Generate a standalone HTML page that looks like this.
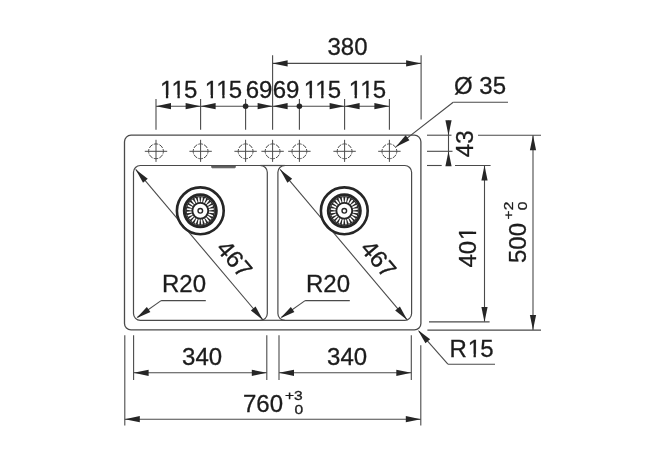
<!DOCTYPE html>
<html><head><meta charset="utf-8"><style>
html,body{margin:0;padding:0;background:#fff;width:665px;height:468px;overflow:hidden}
svg{display:block}
text{font-family:"Liberation Sans",sans-serif}
svg{will-change:transform}
</style></head><body>
<svg width="665" height="468" viewBox="0 0 665 468">
<defs><clipPath id="c0" clipPathUnits="userSpaceOnUse"><path d="M-400 -400H400V400H-400ZM-17.68 -2.70H-12.37V3H-17.68ZM-10.11 -2.70H-0.80V3H-10.11ZM1.46 -2.70H6.58V3H1.46Z" clip-rule="evenodd"/></clipPath><clipPath id="c1" clipPathUnits="userSpaceOnUse"><path d="M-400 -400H400V400H-400ZM-17.68 -2.70H-12.37V3H-17.68ZM-10.11 -2.70H-0.80V3H-10.11ZM1.46 -2.70H6.58V3H1.46Z" clip-rule="evenodd"/></clipPath><clipPath id="c2" clipPathUnits="userSpaceOnUse"><path d="M-400 -400H400V400H-400ZM-17.68 -2.70H-12.37V3H-17.68ZM-10.11 -2.70H-0.80V3H-10.11ZM1.46 -2.70H6.58V3H1.46Z" clip-rule="evenodd"/></clipPath><clipPath id="c3" clipPathUnits="userSpaceOnUse"><path d="M-400 -400H400V400H-400ZM-17.68 -2.70H-12.37V3H-17.68ZM-10.11 -2.70H-0.80V3H-10.11ZM1.46 -2.70H6.58V3H1.46Z" clip-rule="evenodd"/></clipPath><clipPath id="c4" clipPathUnits="userSpaceOnUse"><path d="M-400 -400H400V400H-400ZM8.13 -2.70H13.44V3H8.13ZM15.70 -2.70H20.82V3H15.70Z" clip-rule="evenodd"/></clipPath><clipPath id="c5" clipPathUnits="userSpaceOnUse"><path d="M-400 -400H400V400H-400ZM-3.23 -2.70H2.08V3H-3.23ZM4.34 -2.70H9.46V3H4.34Z" clip-rule="evenodd"/></clipPath></defs>
<rect x="124.50" y="135.20" width="296.40" height="194.70" rx="6.5" fill="none" stroke="#4a4a4a" stroke-width="1.3"/>
<rect x="133.50" y="165.50" width="133.80" height="154.80" rx="6.8" fill="none" stroke="#4a4a4a" stroke-width="1.2"/>
<rect x="277.90" y="165.50" width="133.70" height="154.80" rx="6.8" fill="none" stroke="#4a4a4a" stroke-width="1.2"/>
<line x1="260.30" y1="165.50" x2="284.90" y2="165.50" stroke="#4a4a4a" stroke-width="1.2"/>
<line x1="260.30" y1="320.30" x2="284.90" y2="320.30" stroke="#4a4a4a" stroke-width="1.2"/>
<rect x="211.6" y="165.8" width="23.8" height="2.0" rx="0.8" fill="#666" stroke="#4a4a4a" stroke-width="0.8"/>
<circle cx="156.00" cy="151.30" r="7.4" fill="none" stroke="#4a4a4a" stroke-width="1.0" pathLength="100" stroke-dasharray="10 2.5" stroke-dashoffset="5"/>
<line x1="144.80" y1="151.30" x2="167.20" y2="151.30" stroke="#4a4a4a" stroke-width="1.0"/>
<line x1="156.00" y1="139.80" x2="156.00" y2="161.90" stroke="#4a4a4a" stroke-width="1.0"/>
<circle cx="200.60" cy="151.30" r="7.4" fill="none" stroke="#4a4a4a" stroke-width="1.0" pathLength="100" stroke-dasharray="10 2.5" stroke-dashoffset="5"/>
<line x1="189.40" y1="151.30" x2="211.80" y2="151.30" stroke="#4a4a4a" stroke-width="1.0"/>
<line x1="200.60" y1="139.80" x2="200.60" y2="161.90" stroke="#4a4a4a" stroke-width="1.0"/>
<circle cx="245.60" cy="151.30" r="7.4" fill="none" stroke="#4a4a4a" stroke-width="1.0" pathLength="100" stroke-dasharray="10 2.5" stroke-dashoffset="5"/>
<line x1="234.40" y1="151.30" x2="256.80" y2="151.30" stroke="#4a4a4a" stroke-width="1.0"/>
<line x1="245.60" y1="139.80" x2="245.60" y2="161.90" stroke="#4a4a4a" stroke-width="1.0"/>
<circle cx="272.60" cy="151.30" r="7.4" fill="none" stroke="#4a4a4a" stroke-width="1.0" pathLength="100" stroke-dasharray="10 2.5" stroke-dashoffset="5"/>
<line x1="261.40" y1="151.30" x2="283.80" y2="151.30" stroke="#4a4a4a" stroke-width="1.0"/>
<line x1="272.60" y1="139.80" x2="272.60" y2="161.90" stroke="#4a4a4a" stroke-width="1.0"/>
<circle cx="299.40" cy="151.30" r="7.4" fill="none" stroke="#4a4a4a" stroke-width="1.0" pathLength="100" stroke-dasharray="10 2.5" stroke-dashoffset="5"/>
<line x1="288.20" y1="151.30" x2="310.60" y2="151.30" stroke="#4a4a4a" stroke-width="1.0"/>
<line x1="299.40" y1="139.80" x2="299.40" y2="161.90" stroke="#4a4a4a" stroke-width="1.0"/>
<circle cx="344.60" cy="151.30" r="7.4" fill="none" stroke="#4a4a4a" stroke-width="1.0" pathLength="100" stroke-dasharray="10 2.5" stroke-dashoffset="5"/>
<line x1="333.40" y1="151.30" x2="355.80" y2="151.30" stroke="#4a4a4a" stroke-width="1.0"/>
<line x1="344.60" y1="139.80" x2="344.60" y2="161.90" stroke="#4a4a4a" stroke-width="1.0"/>
<circle cx="389.40" cy="151.30" r="7.4" fill="none" stroke="#4a4a4a" stroke-width="1.0" pathLength="100" stroke-dasharray="10 2.5" stroke-dashoffset="5"/>
<line x1="378.20" y1="151.30" x2="400.60" y2="151.30" stroke="#4a4a4a" stroke-width="1.0"/>
<line x1="389.40" y1="139.80" x2="389.40" y2="161.90" stroke="#4a4a4a" stroke-width="1.0"/>
<line x1="156.00" y1="99.00" x2="156.00" y2="129.80" stroke="#4a4a4a" stroke-width="1.1"/>
<line x1="200.60" y1="99.00" x2="200.60" y2="129.80" stroke="#4a4a4a" stroke-width="1.1"/>
<line x1="245.60" y1="99.00" x2="245.60" y2="129.80" stroke="#4a4a4a" stroke-width="1.1"/>
<line x1="272.60" y1="55.20" x2="272.60" y2="129.80" stroke="#4a4a4a" stroke-width="1.1"/>
<line x1="299.40" y1="99.00" x2="299.40" y2="129.80" stroke="#4a4a4a" stroke-width="1.1"/>
<line x1="344.60" y1="99.00" x2="344.60" y2="129.80" stroke="#4a4a4a" stroke-width="1.1"/>
<line x1="389.40" y1="99.00" x2="389.40" y2="129.80" stroke="#4a4a4a" stroke-width="1.1"/>
<line x1="156.00" y1="106.20" x2="389.40" y2="106.20" stroke="#4a4a4a" stroke-width="1.1"/>
<polygon points="156.00,106.20 171.00,103.10 171.00,109.30" fill="#262626"/>
<polygon points="200.60,106.20 185.60,109.30 185.60,103.10" fill="#262626"/>
<polygon points="200.60,106.20 215.60,103.10 215.60,109.30" fill="#262626"/>
<polygon points="272.60,106.20 257.60,109.30 257.60,103.10" fill="#262626"/>
<polygon points="272.60,106.20 287.60,103.10 287.60,109.30" fill="#262626"/>
<polygon points="344.60,106.20 329.60,109.30 329.60,103.10" fill="#262626"/>
<polygon points="344.60,106.20 359.60,103.10 359.60,109.30" fill="#262626"/>
<polygon points="389.40,106.20 374.40,109.30 374.40,103.10" fill="#262626"/>
<circle cx="245.60" cy="106.20" r="2.8" fill="#262626" stroke="#4a4a4a" stroke-width="0" />
<circle cx="299.40" cy="106.20" r="2.8" fill="#262626" stroke="#4a4a4a" stroke-width="0" />
<g transform="translate(178.30 97.80)"><text x="-18.33 -6.77 5.78" y="0" font-size="24" fill="#1c1c1c" stroke="#1c1c1c" stroke-width="0.3" clip-path="url(#c0)">115</text></g>
<g transform="translate(223.10 97.80)"><text x="-18.33 -6.77 5.78" y="0" font-size="24" fill="#1c1c1c" stroke="#1c1c1c" stroke-width="0.3" clip-path="url(#c1)">115</text></g>
<g transform="translate(259.10 97.80)"><text x="-13.35 0.00" y="0" font-size="24" fill="#1c1c1c" stroke="#1c1c1c" stroke-width="0.3">69</text></g>
<g transform="translate(286.00 97.80)"><text x="-13.35 0.00" y="0" font-size="24" fill="#1c1c1c" stroke="#1c1c1c" stroke-width="0.3">69</text></g>
<g transform="translate(322.00 97.80)"><text x="-18.33 -6.77 5.78" y="0" font-size="24" fill="#1c1c1c" stroke="#1c1c1c" stroke-width="0.3" clip-path="url(#c2)">115</text></g>
<g transform="translate(367.00 97.80)"><text x="-18.33 -6.77 5.78" y="0" font-size="24" fill="#1c1c1c" stroke="#1c1c1c" stroke-width="0.3" clip-path="url(#c3)">115</text></g>
<line x1="421.10" y1="55.20" x2="421.10" y2="119.50" stroke="#4a4a4a" stroke-width="1.1"/>
<line x1="272.60" y1="63.40" x2="421.10" y2="63.40" stroke="#4a4a4a" stroke-width="1.1"/>
<polygon points="272.60,63.40 287.60,60.30 287.60,66.50" fill="#262626"/>
<polygon points="421.10,63.40 406.10,66.50 406.10,60.30" fill="#262626"/>
<g transform="translate(347.50 55.20)"><text x="-20.02 -6.67 6.67" y="0" font-size="24" fill="#1c1c1c" stroke="#1c1c1c" stroke-width="0.3">380</text></g>
<line x1="453.20" y1="102.30" x2="508.00" y2="102.30" stroke="#4a4a4a" stroke-width="1.1"/>
<line x1="453.20" y1="102.30" x2="396.20" y2="146.60" stroke="#4a4a4a" stroke-width="1.1"/>
<polygon points="395.70,147.00 405.64,135.35 409.45,140.24" fill="#262626"/>
<g transform="translate(454.00 94.00)"><text x="0.00 18.67 25.34 38.68" y="0" font-size="24" fill="#1c1c1c" stroke="#1c1c1c" stroke-width="0.3">Ø 35</text></g>
<line x1="427.00" y1="135.20" x2="451.50" y2="135.20" stroke="#4a4a4a" stroke-width="1.1"/>
<line x1="478.00" y1="135.20" x2="541.00" y2="135.20" stroke="#4a4a4a" stroke-width="1.1"/>
<line x1="427.00" y1="151.30" x2="452.50" y2="151.30" stroke="#4a4a4a" stroke-width="1.1"/>
<line x1="427.00" y1="165.50" x2="441.70" y2="165.50" stroke="#4a4a4a" stroke-width="1.1"/>
<line x1="455.00" y1="165.50" x2="490.60" y2="165.50" stroke="#4a4a4a" stroke-width="1.1"/>
<line x1="448.50" y1="120.60" x2="448.50" y2="165.80" stroke="#4a4a4a" stroke-width="1.1"/>
<polygon points="448.50,135.20 445.40,120.20 451.60,120.20" fill="#262626"/>
<polygon points="448.50,151.30 451.60,166.30 445.40,166.30" fill="#262626"/>
<g transform="translate(473.20 143.80) rotate(-90.000)"><text x="-13.35 0.00" y="0" font-size="24" fill="#1c1c1c" stroke="#1c1c1c" stroke-width="0.3">43</text></g>
<line x1="484.50" y1="165.50" x2="484.50" y2="321.60" stroke="#4a4a4a" stroke-width="1.1"/>
<polygon points="484.50,165.50 487.60,180.50 481.40,180.50" fill="#262626"/>
<polygon points="484.50,321.90 481.40,306.90 487.60,306.90" fill="#262626"/>
<line x1="429.00" y1="321.90" x2="489.60" y2="321.90" stroke="#4a4a4a" stroke-width="1.1"/>
<g transform="translate(476.00 247.50) rotate(-90.000)"><text x="-20.02 -6.67 7.47" y="0" font-size="24" fill="#1c1c1c" stroke="#1c1c1c" stroke-width="0.3" clip-path="url(#c4)">401</text></g>
<line x1="533.00" y1="135.20" x2="533.00" y2="330.10" stroke="#4a4a4a" stroke-width="1.1"/>
<polygon points="533.00,135.20 536.10,150.20 529.90,150.20" fill="#262626"/>
<polygon points="533.00,330.10 529.90,315.10 536.10,315.10" fill="#262626"/>
<line x1="427.40" y1="330.10" x2="541.00" y2="330.10" stroke="#4a4a4a" stroke-width="1.1"/>
<g transform="translate(525.50 243.00) rotate(-90.000)"><text x="-20.02 -6.67 6.67" y="0" font-size="24" fill="#1c1c1c" stroke="#1c1c1c" stroke-width="0.3">500</text></g>
<g transform="translate(513.00 210.50) rotate(-90.000) scale(1.25 1)"><text x="-7.13 0.17" y="0" font-size="12.5" fill="#1c1c1c" stroke="#1c1c1c" stroke-width="0.3">+2</text></g>
<g transform="translate(526.50 205.80) rotate(-90.000) scale(1.25 1)"><text x="-3.48" y="0" font-size="12.5" fill="#1c1c1c" stroke="#1c1c1c" stroke-width="0.3">0</text></g>
<line x1="447.90" y1="364.20" x2="495.00" y2="364.20" stroke="#4a4a4a" stroke-width="1.1"/>
<line x1="447.90" y1="364.20" x2="419.00" y2="331.40" stroke="#4a4a4a" stroke-width="1.1"/>
<polygon points="417.90,330.00 430.12,339.23 425.46,343.32" fill="#262626"/>
<g transform="translate(471.50 356.50)"><text x="-22.01 -3.88 8.67" y="0" font-size="24" fill="#1c1c1c" stroke="#1c1c1c" stroke-width="0.3" clip-path="url(#c5)">R15</text></g>
<line x1="124.80" y1="335.20" x2="124.80" y2="425.60" stroke="#4a4a4a" stroke-width="1.1"/>
<line x1="133.60" y1="335.20" x2="133.60" y2="380.00" stroke="#4a4a4a" stroke-width="1.1"/>
<line x1="266.80" y1="335.20" x2="266.80" y2="380.00" stroke="#4a4a4a" stroke-width="1.1"/>
<line x1="279.00" y1="335.20" x2="279.00" y2="380.00" stroke="#4a4a4a" stroke-width="1.1"/>
<line x1="411.30" y1="335.20" x2="411.30" y2="380.00" stroke="#4a4a4a" stroke-width="1.1"/>
<line x1="420.80" y1="345.20" x2="420.80" y2="425.60" stroke="#4a4a4a" stroke-width="1.1"/>
<line x1="133.60" y1="372.80" x2="266.80" y2="372.80" stroke="#4a4a4a" stroke-width="1.1"/>
<polygon points="133.60,372.80 148.60,369.70 148.60,375.90" fill="#262626"/>
<polygon points="266.80,372.80 251.80,375.90 251.80,369.70" fill="#262626"/>
<g transform="translate(202.10 365.00)"><text x="-20.02 -6.67 6.67" y="0" font-size="24" fill="#1c1c1c" stroke="#1c1c1c" stroke-width="0.3">340</text></g>
<line x1="279.00" y1="372.80" x2="411.30" y2="372.80" stroke="#4a4a4a" stroke-width="1.1"/>
<polygon points="279.00,372.80 294.00,369.70 294.00,375.90" fill="#262626"/>
<polygon points="411.30,372.80 396.30,375.90 396.30,369.70" fill="#262626"/>
<g transform="translate(347.05 365.00)"><text x="-20.02 -6.67 6.67" y="0" font-size="24" fill="#1c1c1c" stroke="#1c1c1c" stroke-width="0.3">340</text></g>
<line x1="124.80" y1="419.20" x2="420.80" y2="419.20" stroke="#4a4a4a" stroke-width="1.1"/>
<polygon points="124.80,419.20 139.80,416.10 139.80,422.30" fill="#262626"/>
<polygon points="420.80,419.20 405.80,422.30 405.80,416.10" fill="#262626"/>
<g transform="translate(263.00 412.00)"><text x="-20.02 -6.67 6.67" y="0" font-size="24" fill="#1c1c1c" stroke="#1c1c1c" stroke-width="0.3">760</text></g>
<g transform="translate(285.00 399.50) scale(1.25 1)"><text x="0.00 7.30" y="0" font-size="12.5" fill="#1c1c1c" stroke="#1c1c1c" stroke-width="0.3">+3</text></g>
<g transform="translate(294.50 413.60) scale(1.25 1)"><text x="0.00" y="0" font-size="12.5" fill="#1c1c1c" stroke="#1c1c1c" stroke-width="0.3">0</text></g>
<line x1="135.70" y1="169.40" x2="262.90" y2="319.90" stroke="#4a4a4a" stroke-width="1.1"/>
<polygon points="135.70,169.40 147.75,178.86 143.02,182.86" fill="#262626"/>
<polygon points="262.90,319.90 250.85,310.44 255.58,306.44" fill="#262626"/>
<g transform="translate(228.20 264.40) rotate(49.796)"><text x="-20.02 -6.67 6.67" y="0" font-size="24" fill="#1c1c1c" stroke="#1c1c1c" stroke-width="0.3">467</text></g>
<g transform="translate(184.00 291.60)"><text x="-22.01 -4.68 8.67" y="0" font-size="24" fill="#1c1c1c" stroke="#1c1c1c" stroke-width="0.3">R20</text></g>
<line x1="161.10" y1="300.60" x2="205.80" y2="300.60" stroke="#4a4a4a" stroke-width="1.1"/>
<line x1="161.10" y1="300.60" x2="137.50" y2="317.30" stroke="#4a4a4a" stroke-width="1.1"/>
<polygon points="136.40,318.20 146.82,306.97 150.41,312.02" fill="#262626"/>
<circle cx="200.30" cy="210.80" r="23.4" fill="none" stroke="#262626" stroke-width="2.6" />
<circle cx="200.30" cy="210.80" r="16.0" fill="none" stroke="#262626" stroke-width="3.0" />
<circle cx="200.30" cy="210.80" r="10.8" fill="none" stroke="#262626" stroke-width="7.6" />
<line x1="209.02" y1="211.95" x2="213.78" y2="212.58" stroke="#fff" stroke-width="1.6"/>
<line x1="208.43" y1="214.17" x2="212.86" y2="216.00" stroke="#fff" stroke-width="1.6"/>
<line x1="207.28" y1="216.16" x2="211.09" y2="219.08" stroke="#fff" stroke-width="1.6"/>
<line x1="205.66" y1="217.78" x2="208.58" y2="221.59" stroke="#fff" stroke-width="1.6"/>
<line x1="203.67" y1="218.93" x2="205.50" y2="223.36" stroke="#fff" stroke-width="1.6"/>
<line x1="201.45" y1="219.52" x2="202.08" y2="224.28" stroke="#fff" stroke-width="1.6"/>
<line x1="199.15" y1="219.52" x2="198.52" y2="224.28" stroke="#fff" stroke-width="1.6"/>
<line x1="196.93" y1="218.93" x2="195.10" y2="223.36" stroke="#fff" stroke-width="1.6"/>
<line x1="194.94" y1="217.78" x2="192.02" y2="221.59" stroke="#fff" stroke-width="1.6"/>
<line x1="193.32" y1="216.16" x2="189.51" y2="219.08" stroke="#fff" stroke-width="1.6"/>
<line x1="192.17" y1="214.17" x2="187.74" y2="216.00" stroke="#fff" stroke-width="1.6"/>
<line x1="191.58" y1="211.95" x2="186.82" y2="212.58" stroke="#fff" stroke-width="1.6"/>
<line x1="191.58" y1="209.65" x2="186.82" y2="209.02" stroke="#fff" stroke-width="1.6"/>
<line x1="192.17" y1="207.43" x2="187.74" y2="205.60" stroke="#fff" stroke-width="1.6"/>
<line x1="193.32" y1="205.44" x2="189.51" y2="202.52" stroke="#fff" stroke-width="1.6"/>
<line x1="194.94" y1="203.82" x2="192.02" y2="200.01" stroke="#fff" stroke-width="1.6"/>
<line x1="196.93" y1="202.67" x2="195.10" y2="198.24" stroke="#fff" stroke-width="1.6"/>
<line x1="199.15" y1="202.08" x2="198.52" y2="197.32" stroke="#fff" stroke-width="1.6"/>
<line x1="201.45" y1="202.08" x2="202.08" y2="197.32" stroke="#fff" stroke-width="1.6"/>
<line x1="203.67" y1="202.67" x2="205.50" y2="198.24" stroke="#fff" stroke-width="1.6"/>
<line x1="205.66" y1="203.82" x2="208.58" y2="200.01" stroke="#fff" stroke-width="1.6"/>
<line x1="207.28" y1="205.44" x2="211.09" y2="202.52" stroke="#fff" stroke-width="1.6"/>
<line x1="208.43" y1="207.43" x2="212.86" y2="205.60" stroke="#fff" stroke-width="1.6"/>
<line x1="209.02" y1="209.65" x2="213.78" y2="209.02" stroke="#fff" stroke-width="1.6"/>
<circle cx="200.30" cy="210.80" r="2.3" fill="none" stroke="#262626" stroke-width="1.4" />
<line x1="280.10" y1="169.40" x2="407.20" y2="319.90" stroke="#4a4a4a" stroke-width="1.1"/>
<polygon points="280.10,169.40 292.15,178.86 287.41,182.86" fill="#262626"/>
<polygon points="407.20,319.90 395.15,310.44 399.89,306.44" fill="#262626"/>
<g transform="translate(372.20 264.40) rotate(49.818)"><text x="-20.02 -6.67 6.67" y="0" font-size="24" fill="#1c1c1c" stroke="#1c1c1c" stroke-width="0.3">467</text></g>
<g transform="translate(328.00 291.60)"><text x="-22.01 -4.68 8.67" y="0" font-size="24" fill="#1c1c1c" stroke="#1c1c1c" stroke-width="0.3">R20</text></g>
<line x1="305.10" y1="300.60" x2="349.80" y2="300.60" stroke="#4a4a4a" stroke-width="1.1"/>
<line x1="305.10" y1="300.60" x2="281.50" y2="317.30" stroke="#4a4a4a" stroke-width="1.1"/>
<polygon points="280.40,318.20 290.82,306.97 294.41,312.02" fill="#262626"/>
<circle cx="344.30" cy="210.80" r="23.4" fill="none" stroke="#262626" stroke-width="2.6" />
<circle cx="344.30" cy="210.80" r="16.0" fill="none" stroke="#262626" stroke-width="3.0" />
<circle cx="344.30" cy="210.80" r="10.8" fill="none" stroke="#262626" stroke-width="7.6" />
<line x1="353.02" y1="211.95" x2="357.78" y2="212.58" stroke="#fff" stroke-width="1.6"/>
<line x1="352.43" y1="214.17" x2="356.86" y2="216.00" stroke="#fff" stroke-width="1.6"/>
<line x1="351.28" y1="216.16" x2="355.09" y2="219.08" stroke="#fff" stroke-width="1.6"/>
<line x1="349.66" y1="217.78" x2="352.58" y2="221.59" stroke="#fff" stroke-width="1.6"/>
<line x1="347.67" y1="218.93" x2="349.50" y2="223.36" stroke="#fff" stroke-width="1.6"/>
<line x1="345.45" y1="219.52" x2="346.08" y2="224.28" stroke="#fff" stroke-width="1.6"/>
<line x1="343.15" y1="219.52" x2="342.52" y2="224.28" stroke="#fff" stroke-width="1.6"/>
<line x1="340.93" y1="218.93" x2="339.10" y2="223.36" stroke="#fff" stroke-width="1.6"/>
<line x1="338.94" y1="217.78" x2="336.02" y2="221.59" stroke="#fff" stroke-width="1.6"/>
<line x1="337.32" y1="216.16" x2="333.51" y2="219.08" stroke="#fff" stroke-width="1.6"/>
<line x1="336.17" y1="214.17" x2="331.74" y2="216.00" stroke="#fff" stroke-width="1.6"/>
<line x1="335.58" y1="211.95" x2="330.82" y2="212.58" stroke="#fff" stroke-width="1.6"/>
<line x1="335.58" y1="209.65" x2="330.82" y2="209.02" stroke="#fff" stroke-width="1.6"/>
<line x1="336.17" y1="207.43" x2="331.74" y2="205.60" stroke="#fff" stroke-width="1.6"/>
<line x1="337.32" y1="205.44" x2="333.51" y2="202.52" stroke="#fff" stroke-width="1.6"/>
<line x1="338.94" y1="203.82" x2="336.02" y2="200.01" stroke="#fff" stroke-width="1.6"/>
<line x1="340.93" y1="202.67" x2="339.10" y2="198.24" stroke="#fff" stroke-width="1.6"/>
<line x1="343.15" y1="202.08" x2="342.52" y2="197.32" stroke="#fff" stroke-width="1.6"/>
<line x1="345.45" y1="202.08" x2="346.08" y2="197.32" stroke="#fff" stroke-width="1.6"/>
<line x1="347.67" y1="202.67" x2="349.50" y2="198.24" stroke="#fff" stroke-width="1.6"/>
<line x1="349.66" y1="203.82" x2="352.58" y2="200.01" stroke="#fff" stroke-width="1.6"/>
<line x1="351.28" y1="205.44" x2="355.09" y2="202.52" stroke="#fff" stroke-width="1.6"/>
<line x1="352.43" y1="207.43" x2="356.86" y2="205.60" stroke="#fff" stroke-width="1.6"/>
<line x1="353.02" y1="209.65" x2="357.78" y2="209.02" stroke="#fff" stroke-width="1.6"/>
<circle cx="344.30" cy="210.80" r="2.3" fill="none" stroke="#262626" stroke-width="1.4" />
</svg>
</body></html>
